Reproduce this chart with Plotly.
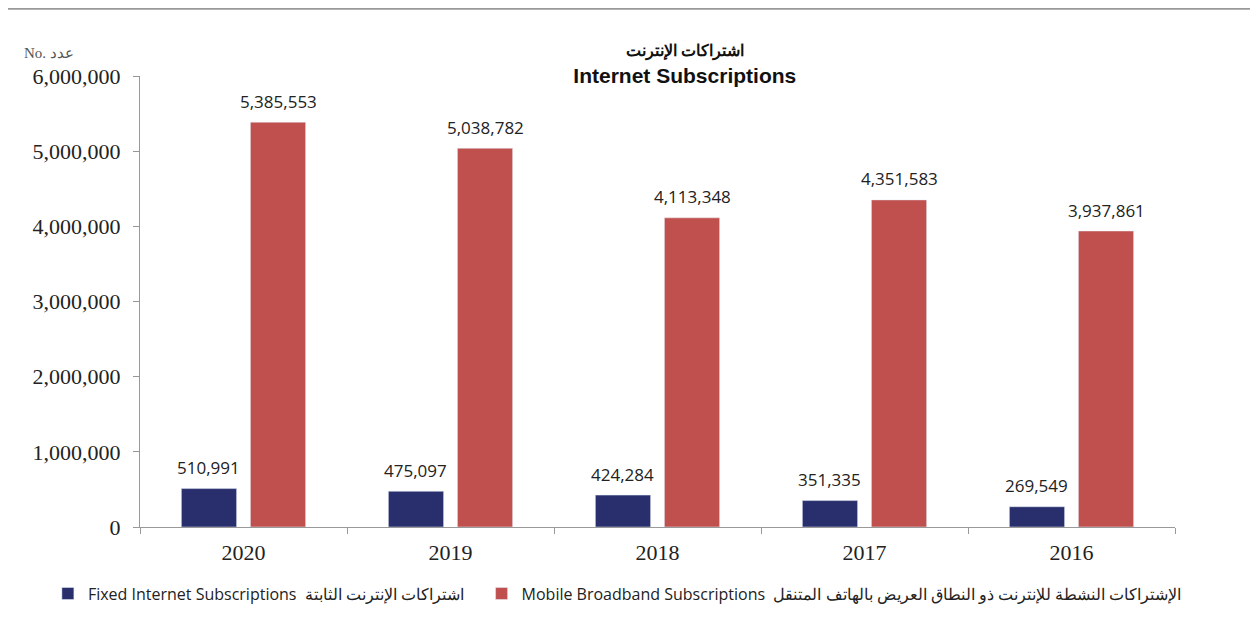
import plotly.graph_objects as go

# ── data ──────────────────────────────────────────────────────────────────────
years  = ["2020", "2019", "2018", "2017", "2016"]
fixed  = [510991, 475097, 424284, 351335, 269549]
mobile = [5385553, 5038782, 4113348, 4351583, 3937861]

NAVY = "#282F6C"
RED  = "#C0504D"
AXIS = "#999999"
TEXT = "#222222"

BARGAP = 0.333
SLOT_PX = 1035 / len(years) * (1 - BARGAP) / 2   # width of one bar slot in px

fig = go.Figure()
fig.add_trace(go.Bar(
    x=years, y=fixed,
    name="Fixed Internet Subscriptions  اشتراكات الإنترنت الثابتة\u00a0\u00a0\u00a0",
    marker_color=NAVY,
))
fig.add_trace(go.Bar(
    x=years, y=mobile,
    name="Mobile Broadband Subscriptions  الإشتراكات النشطة للإنترنت ذو النطاق العريض بالهاتف المتنقل",
    marker_color=RED,
))

# value labels sit a bit higher than plotly's "outside" text, so use annotations
# (category axis: annotation x is the category's serial number)
for vals, side in [(fixed, -1), (mobile, 1)]:
    for i, v in enumerate(vals):
        fig.add_annotation(
            x=i, y=v, text=f"{v:,}", showarrow=False,
            xshift=side * SLOT_PX / 2, yshift=21, yanchor="middle",
            font=dict(family="Open Sans", size=17, color=TEXT),
        )

# page body adds an 8px offset, margins compensate for it
fig.update_layout(
    width=1258, height=636,
    paper_bgcolor="white", plot_bgcolor="white",
    margin=dict(l=132, r=91, t=68, b=117),
    barmode="group", bargap=BARGAP, bargroupgap=0.2,
    title=dict(
        text="<span style='font-size:16px'><b>اشتراكات الإنترنت</b></span><br><b>Internet Subscriptions</b>",
        x=0.538, xanchor="center", y=0.925, yanchor="top",
        font=dict(family="Liberation Sans", size=21, color="#111111"),
    ),
    xaxis=dict(
        type="category",
        showline=True, linecolor=AXIS, linewidth=1,
        ticks="outside", tickcolor=AXIS, ticklen=6, tickson="boundaries",
        ticklabelstandoff=6,
        tickfont=dict(family="Liberation Serif", size=22, color=TEXT),
    ),
    yaxis=dict(
        range=[0, 6000000], dtick=1000000, tickformat=",",
        showline=True, linecolor=AXIS, linewidth=1, showgrid=False, zeroline=False,
        ticks="outside", tickcolor=AXIS, ticklen=6, ticklabelstandoff=8,
        tickfont=dict(family="Liberation Serif", size=22, color=TEXT),
    ),
    legend=dict(
        orientation="h", x=-0.089, xanchor="left", y=-0.11, yanchor="top",
        font=dict(family="Open Sans", size=16, color=TEXT),
        itemwidth=30,
    ),
)

fig.add_annotation(
    text="No. عدد", xref="paper", yref="paper", x=-0.114, y=1.05,
    xanchor="left", yanchor="middle", showarrow=False,
    font=dict(family="Liberation Serif", size=15, color="#555555"),
)
fig.add_shape(type="line", xref="paper", yref="paper", x0=-0.2, x1=1.2, y0=1.149, y1=1.149,
              line=dict(color="#999999", width=2))

fig.write_html("out.html")
